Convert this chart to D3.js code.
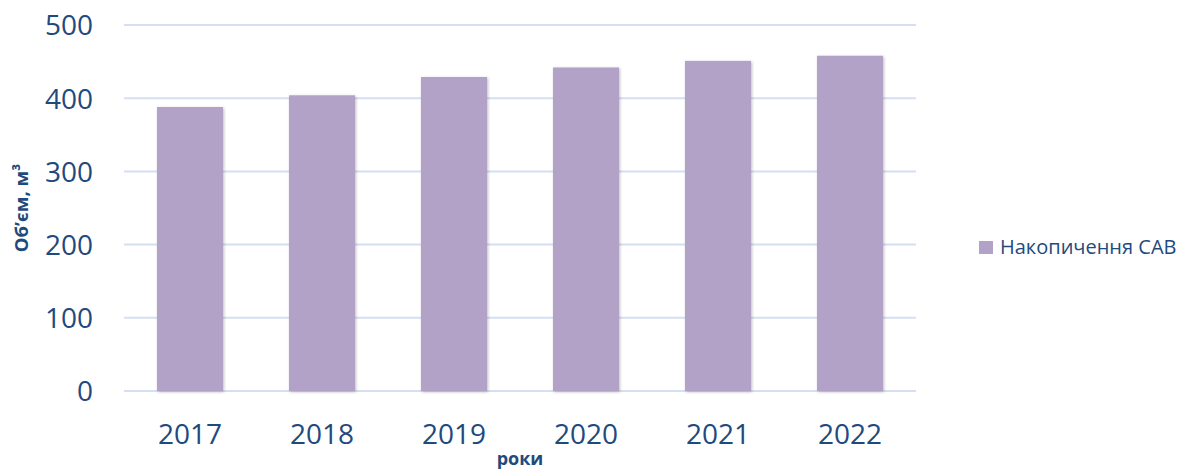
<!DOCTYPE html>
<html><head><meta charset="utf-8">
<script src="https://cdn.jsdelivr.net/npm/d3@7"></script>
<style>body{margin:0;background:#fff}</style>
</head><body>
<svg id="c" width="1189" height="470"></svg>
<script>
const categories = ["2017","2018","2019","2020","2021","2022"];
const values = [388, 404, 429, 442, 451, 458];
const yTicks = [0,100,200,300,400,500];
const seriesName = "Накопичення САВ";
const yTitle = "Об’єм, м³";
const xTitle = "роки";

const svg = d3.select("#c");
const m = {left:124, right:916, top:25, bottom:391};
const x = d3.scaleBand().domain(categories).range([m.left, m.right]).paddingInner(0.5).paddingOuter(0.25);
const y = d3.scaleLinear().domain([0,500]).range([m.bottom, m.top]);
const textColor = "#1f4a7d";
const font = "'Open Sans', sans-serif";

const defs = svg.append("defs");
const f = defs.append("filter").attr("id","sh").attr("x","-20%").attr("y","-5%").attr("width","140%").attr("height","110%");
f.append("feDropShadow").attr("dx",1).attr("dy",1).attr("stdDeviation",1.5).attr("flood-color","#000").attr("flood-opacity",0.25);

// gridlines
svg.append("g").selectAll("line").data(yTicks).join("line")
  .attr("x1", m.left).attr("x2", m.right)
  .attr("y1", d=>y(d)).attr("y2", d=>y(d))
  .attr("stroke","#d4e0f1").attr("stroke-width",2);

// bars
svg.append("g").selectAll("rect").data(values).join("rect")
  .attr("x",(d,i)=>x(categories[i]))
  .attr("width", x.bandwidth())
  .attr("y", d=>y(d))
  .attr("height", d=>y(0)-y(d))
  .attr("fill","#b3a2c7")
  .attr("filter","url(#sh)");

// y tick labels
const yAxis = d3.axisLeft(y).tickValues(yTicks).tickSize(0).tickPadding(0);
const ya = svg.append("g").attr("transform",`translate(${m.left-31},0)`).call(yAxis);
ya.select(".domain").remove();
ya.selectAll("text").attr("font-family",font).attr("font-size",28).attr("fill",textColor).attr("dy","0.35em");

// x tick labels
const xAxis = d3.axisBottom(x).tickSize(0).tickPadding(0);
const xa = svg.append("g").attr("transform",`translate(0,${m.bottom})`).call(xAxis);
xa.select(".domain").remove();
xa.selectAll("text").attr("font-family",font).attr("font-size",28).attr("fill",textColor).attr("dy",0).attr("y",53);

// axis titles
svg.append("text").attr("transform",`translate(28,208) rotate(-90)`).attr("text-anchor","middle")
  .attr("font-family",font).attr("font-weight","bold").attr("font-size",18.5).attr("fill",textColor).text(yTitle);
svg.append("text").attr("x",520).attr("y",465).attr("text-anchor","middle")
  .attr("font-family",font).attr("font-weight","bold").attr("font-size",18).attr("fill",textColor).text(xTitle);

// legend
const lg = svg.append("g").attr("transform","translate(979,241)");
lg.append("rect").attr("width",14).attr("height",13).attr("fill","#b3a2c7");
lg.append("text").attr("x",21).attr("y",13).attr("font-family",font).attr("font-size",20).attr("fill",textColor).text(seriesName);
</script>
</body></html>
